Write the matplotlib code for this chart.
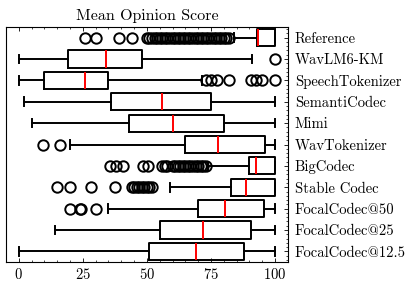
import matplotlib
matplotlib.use("Agg")
import matplotlib.pyplot as plt
from matplotlib.ticker import MultipleLocator, AutoMinorLocator

plt.rcParams['font.family'] = ['cmr10', 'DejaVu Serif']
plt.rcParams['mathtext.fontset'] = 'cm'
plt.rcParams['axes.formatter.use_mathtext'] = True

# top to bottom
models = ['Reference', 'WavLM6-KM', 'SpeechTokenizer', 'SemantiCodec', 'Mimi',
          'WavTokenizer', 'BigCodec', 'Stable Codec', 'FocalCodec@50',
          'FocalCodec@25', 'FocalCodec@12.5']
q1 = [93, 19, 10, 36, 43, 65, 90, 83, 70, 55, 51]
med = [93.3, 34, 26, 56, 60.3, 77.7, 92.6, 88.5, 80.5, 72, 69]
q3 = [100, 48, 35, 75, 80, 96, 100, 100, 95.8, 90.8, 88]
whislo = [84, 0, 0, 2, 5, 20, 74, 59, 35, 14, 0]
whishi = [100, 91, 71.5, 100, 100, 100, 100, 100, 100, 100, 100]
fliers = [
    [26, 30, 39, 44, 50, 51, 52, 53, 54, 55, 56, 57, 58, 59, 60, 61, 62, 63,
     64, 65, 66, 67, 68, 69, 70, 71, 72, 73, 74, 75, 76, 77, 78, 79, 80, 81, 82],
    [100],
    [73, 75, 77.5, 82, 90.5, 92.5, 95, 100],
    [],
    [],
    [9.5, 16],
    [35.5, 38, 40.5, 48.5, 50.5, 56, 57, 58, 60, 61, 62, 63, 64, 65, 66, 67,
     68, 69, 70, 71, 72, 73],
    [15, 20, 28, 37.5, 44, 45, 46, 47, 48, 49, 50, 51, 52],
    [20, 23.7, 24.4, 30],
    [],
    [],
]

stats = []
for i in range(len(models)):
    stats.append({'label': models[i], 'q1': q1[i], 'med': med[i], 'q3': q3[i],
                  'whislo': whislo[i], 'whishi': whishi[i], 'fliers': fliers[i]})
stats = stats[::-1]
positions = list(range(1, len(models) + 1))

fig = plt.figure(figsize=(4.12, 2.87), dpi=100)
ax = fig.add_axes([0.0146, 0.087, 0.684, 0.819])

ax.bxp(stats, positions=positions, vert=False, widths=0.8,
       boxprops=dict(color='black', linewidth=1.4),
       whiskerprops=dict(color='black', linewidth=1.4),
       capprops=dict(color='black', linewidth=1.4),
       medianprops=dict(color='red', linewidth=1.4),
       flierprops=dict(marker='o', markerfacecolor='none',
                       markeredgecolor='black', markersize=7.5,
                       markeredgewidth=1.4))

ax.set_xlim(-5, 105)
ax.set_ylim(0.5, 11.5)
ax.set_title('Mean Opinion Score', fontsize=11.5, pad=5)

ax.yaxis.tick_right()
ax.set_yticks(positions)
ax.set_yticklabels([s['label'] for s in stats])
ax.xaxis.set_major_locator(MultipleLocator(25))
ax.xaxis.set_minor_locator(MultipleLocator(5))
ax.yaxis.set_minor_locator(AutoMinorLocator(5))
ax.tick_params(which='both', direction='in', top=True, labelsize=10.5)
ax.tick_params(which='major', length=3, width=0.6)
ax.tick_params(which='minor', length=1.5, width=0.5)
ax.tick_params(axis='y', which='both', left=False, right=True, pad=5)
for s in ax.spines.values():
    s.set_linewidth(0.8)

fig.savefig('out.png', dpi=100)
